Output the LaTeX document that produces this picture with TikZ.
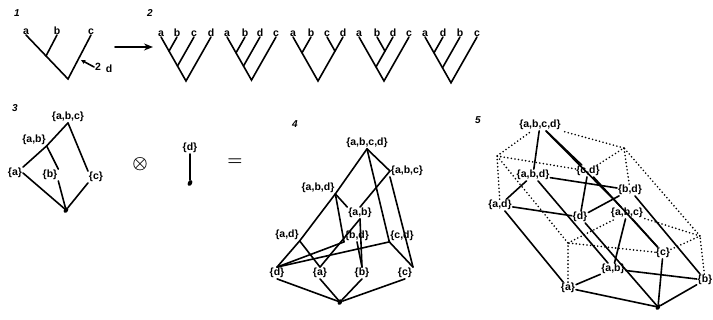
\documentclass[tikz,border=0pt]{standalone}
\usepackage{fontspec}
\setmainfont{Liberation Sans}
\usetikzlibrary{arrows.meta,shapes.geometric}
\begin{document}
\begin{tikzpicture}[x=1pt,y=-1pt,
  ln/.style={line width=1.6pt, line cap=round},
  dotln/.style={line width=1.8pt, line cap=round, dash pattern=on 0pt off 3.6pt},
  lab/.style={font=\fontsize{10.5}{12}\selectfont\bfseries, inner sep=0.8pt},
  leaf/.style={font=\fontsize{10.5}{12}\selectfont\bfseries, inner sep=0.5pt, text height=7pt, text depth=0pt, anchor=south},
  num/.style={font=\fontsize{10}{12}\selectfont\bfseries\itshape, inner sep=0pt},
  blob/.style={ellipse, fill, inner sep=0pt, minimum width=4.2pt, minimum height=6.2pt, rotate=-30},
  vx/.style={inner sep=0pt, minimum size=0pt},
  big/.style={font=\fontsize{17}{17}\selectfont\boldmath, inner sep=0pt}
]
\useasboundingbox (0,0) rectangle (713,320);

% ---------- panel 1 ----------
\node[num] (n1) at (17,13) {1};
\node[leaf] (p1a) at (26,35) {a};
\node[leaf] (p1b) at (57,35) {b};
\node[leaf] (p1c) at (91,35) {c};
\coordinate (p1r) at (68,79);
\coordinate (p1n) at (46,56);
\draw[ln] (p1a.south) -- (p1r) -- (p1c.south);
\draw[ln] (p1b.south) -- (p1n);
\coordinate (p1hit) at (81,60);
\node[lab] (p1two) at (98,67) {2};
\node[lab] (p1d) at (109,69) {d};
\draw[ln, -{Stealth[length=4.5pt,width=4.5pt]}] (p1two.west) -- (p1hit);

\coordinate (arS) at (115,47);
\coordinate (arE) at (153,47);
\draw[ln, -{Stealth[length=9pt,width=7pt]}] (arS) -- (arE);

% ---------- panel 2 ----------
\node[num] (n2) at (150,13) {2};
% tree 1: (((a,b),c),d)
\node[leaf] (t1a) at (161,37) {a};
\node[leaf] (t1b) at (177,37) {b};
\node[leaf] (t1c) at (194,37) {c};
\node[leaf] (t1d) at (211,37) {d};
\coordinate (t1r) at (186,81);
\coordinate (t1n) at (169,51.1);
\coordinate (t1m) at (177.5,66);
\draw[ln] (t1a.south) -- (t1r) -- (t1d.south);
\draw[ln] (t1b.south) -- (t1n);
\draw[ln] (t1c.south) -- (t1m);
% tree 2: (((a,b),d),c)
\node[leaf] (t2a) at (227,37) {a};
\node[leaf] (t2b) at (245,37) {b};
\node[leaf] (t2d) at (260,37) {d};
\node[leaf] (t2c) at (276,37) {c};
\coordinate (t2r) at (251.5,80.1);
\coordinate (t2n) at (236,52.8);
\coordinate (t2m) at (243.5,66);
\draw[ln] (t2a.south) -- (t2r) -- (t2c.south);
\draw[ln] (t2b.south) -- (t2n);
\draw[ln] (t2d.south) -- (t2m);
% tree 3: ((a,b),(c,d))
\node[leaf] (t3a) at (293,37) {a};
\node[leaf] (t3b) at (311,37) {b};
\node[leaf] (t3c) at (327,37) {c};
\node[leaf] (t3d) at (343,37) {d};
\coordinate (t3r) at (318,81);
\coordinate (t3n) at (302,52.8);
\coordinate (t3m) at (335,51.1);
\draw[ln] (t3a.south) -- (t3r) -- (t3d.south);
\draw[ln] (t3b.south) -- (t3n);
\draw[ln] (t3c.south) -- (t3m);
% tree 4: ((a,(b,d)),c)
\node[leaf] (t4a) at (359,37) {a};
\node[leaf] (t4b) at (377,37) {b};
\node[leaf] (t4d) at (393,37) {d};
\node[leaf] (t4c) at (409,37) {c};
\coordinate (t4r) at (384,81);
\coordinate (t4n) at (385,51.1);
\coordinate (t4m) at (376,66.9);
\draw[ln] (t4a.south) -- (t4r) -- (t4c.south);
\draw[ln] (t4b.south) -- (t4n);
\draw[ln] (t4d.south) -- (t4m);
% tree 5: (((a,d),b),c)
\node[leaf] (t5a) at (425,37) {a};
\node[leaf] (t5d) at (443,37) {d};
\node[leaf] (t5b) at (460,37) {b};
\node[leaf] (t5c) at (477,37) {c};
\coordinate (t5r) at (451,82.8);
\coordinate (t5n) at (434,52.8);
\coordinate (t5m) at (442.5,67.8);
\draw[ln] (t5a.south) -- (t5r) -- (t5c.south);
\draw[ln] (t5d.south) -- (t5n);
\draw[ln] (t5b.south) -- (t5m);

% ---------- panel 3 ----------
\node[num] (n3) at (15,108) {3};
\node[lab] (p3abc) at (68,117) {\{a,b,c\}};
\node[lab] (p3ab) at (34,140) {\{a,b\}};
\node[lab] (p3a) at (15,173) {\{a\}};
\node[lab] (p3b) at (50,175) {\{b\}};
\node[lab] (p3c) at (96,177) {\{c\}};
\node[blob] (p3e) at (66,210) {};
\draw[ln] (p3abc.south) -- (p3ab.south east);
\draw[ln] (p3ab.south east) -- (p3a.north east);
\draw[ln] (p3ab.south east) -- (p3b.north east);
\draw[ln] (p3b.south east) -- (p3e);
\draw[ln] (p3abc.south) -- (p3c.north west);
\draw[ln] (p3c.south west) -- (p3e);
\draw[ln] (p3a.east) -- (p3e);

\node[big] (otim) at (140,164) {$\otimes$};
\node[lab] (p3d) at (190,148) {\{d\}};
\node[blob] (p3e2) at (190,183) {};
\draw[ln] (p3d.south) -- (p3e2);
\node[big] (eqs) at (235,162) {$=$};

% ---------- panel 4 ----------
\node[num] (n4) at (295,124) {4};
\node[lab] (p4abcd) at (367,143) {\{a,b,c,d\}};
\node[lab] (p4abc) at (407,171) {\{a,b,c\}};
\node[lab] (p4abd) at (318,188) {\{a,b,d\}};
\node[lab] (p4ab) at (360,213) {\{a,b\}};
\node[lab] (p4ad) at (287,235) {\{a,d\}};
\node[lab] (p4bd) at (357,236) {\{b,d\}};
\node[lab] (p4cd) at (402,236) {\{c,d\}};
\node[lab] (p4d) at (277,273) {\{d\}};
\node[lab] (p4a) at (320,273) {\{a\}};
\node[lab] (p4b) at (362,273) {\{b\}};
\node[lab] (p4c) at (405,273) {\{c\}};
\node[blob] (p4e) at (340,302) {};
\draw[ln] (p4abcd.south) -- (p4abd.south east);
\draw[ln] (p4abd.south east) -- (p4ad.south east);
\draw[ln] (p4ad.south east) -- (p4d.north);
\draw[ln] (p4abcd.south) -- (p4abc.west);
\draw[ln] (p4abcd.south) -- (p4cd.south west);
\draw[ln] (p4abc.west) -- (p4ab.north);
\draw[ln] (p4abc.south west) -- (p4c.north east);
\draw[ln] (p4cd.south west) -- (p4c.north east);
\draw[ln] (p4cd.south west) -- (p4d.north);
\draw[ln] (p4abd.south east) -- (p4bd.south west);
\draw[ln] (p4abd.south east) -- (p4ab.north west);
\draw[ln] (p4bd.south west) -- (p4d.north);
\draw[ln] (p4ab.south) -- (p4a.north);
\draw[ln] (p4ab.south) -- (p4b.north);
\draw[ln] (p4ad.south east) -- (p4a.north);
\draw[ln] (p4bd.south) -- (p4b.north);
\draw[ln] (p4d.south) -- (p4e);
\draw[ln] (p4a.south) -- (p4e);
\draw[ln] (p4b.south) -- (p4e);
\draw[ln] (p4c.south) -- (p4e);

% ---------- panel 5 ----------
\node[num] (n5) at (478,120) {5};
\node[lab] (q-abcd) at (540,125) {\{a,b,c,d\}};
\node[lab] (q-abd) at (533,175) {\{a,b,d\}};
\node[lab] (q-cd) at (588,171) {\{c,d\}};
\node[lab] (q-bd) at (630,190) {\{b,d\}};
\node[lab] (q-ad) at (500,205) {\{a,d\}};
\node[lab] (q-d) at (580,217) {\{d\}};
\node[lab] (q-abc) at (627,213) {\{a,b,c\}};
\node[lab] (q-c) at (663,253) {\{c\}};
\node[lab] (q-ab) at (613,269) {\{a,b\}};
\node[lab] (q-a) at (568,288) {\{a\}};
\node[lab] (q-b) at (705,280) {\{b\}};
\node[blob] (q-e) at (658,307) {};
\node[vx] (q-acd) at (497,156) {};
\node[vx] (q-bcd) at (624,148) {};
\node[vx] (q-ac) at (568,243) {};
\node[vx] (q-bc) at (700,236) {};
% dotted (missing subsets)
\foreach \u/\v in {a/ac, c/ac, ac/abc, ac/acd, b/bc, c/bc, bc/abc, bc/bcd,
                   ad/acd, cd/acd, acd/abcd, bd/bcd, cd/bcd, bcd/abcd}
  \draw[dotln] (q-\u) -- (q-\v);
% solid lattice edges
\foreach \u/\v in {e/a, e/b, e/c, a/ab, b/ab, ab/abc, c/abc,
                   d/ad, d/bd, d/cd, ad/abd, bd/abd, abd/abcd, cd/abcd,
                   e/d, a/ad, b/bd, c/cd, ab/abd, abc/abcd}
  \draw[ln] (q-\u) -- (q-\v);
\end{tikzpicture}
\end{document}
